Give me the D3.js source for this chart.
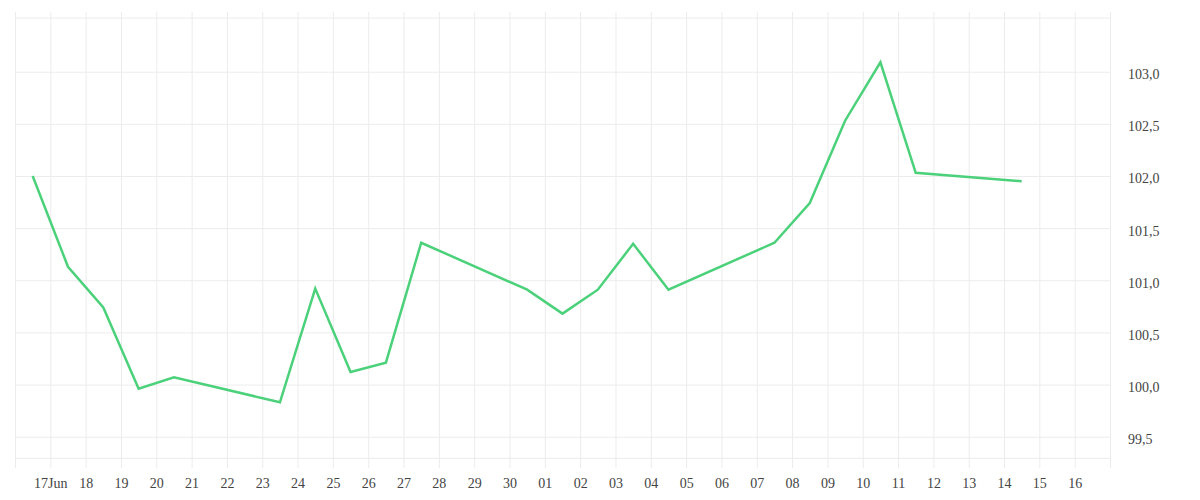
<!DOCTYPE html>
<html>
<head>
<meta charset="utf-8">
<script src="https://cdn.jsdelivr.net/npm/d3@7/dist/d3.min.js"></script>
<style>
  html, body { margin: 0; padding: 0; background: #fff; }
  svg { display: block; }
  .axis text { font-family: "Liberation Serif", serif; font-size: 14px; fill: #444; }
  .axis line { stroke: #ececec; stroke-width: 1; }
  .axis path.domain { display: none; }
</style>
</head>
<body>
<svg id="chart" width="1200" height="500"></svg>
<script>
// ---- data ----
const dates = ["2025-06-16","2025-06-17","2025-06-18","2025-06-19","2025-06-20",
               "2025-06-23","2025-06-24","2025-06-25","2025-06-26","2025-06-27",
               "2025-06-30","2025-07-01","2025-07-02","2025-07-03","2025-07-04",
               "2025-07-07","2025-07-08","2025-07-09","2025-07-10","2025-07-11",
               "2025-07-14"];
const values = [102.00, 101.13, 100.74, 99.96, 100.07,
                99.83, 100.92, 100.12, 100.21, 101.36,
                100.91, 100.68, 100.91, 101.35, 100.91,
                101.36, 101.74, 102.53, 103.09, 102.03,
                101.95];
const xTickDays = ["2025-06-16","2025-06-17","2025-06-18","2025-06-19","2025-06-20","2025-06-21",
                   "2025-06-22","2025-06-23","2025-06-24","2025-06-25","2025-06-26","2025-06-27",
                   "2025-06-28","2025-06-29","2025-06-30","2025-07-01","2025-07-02","2025-07-03",
                   "2025-07-04","2025-07-05","2025-07-06","2025-07-07","2025-07-08","2025-07-09",
                   "2025-07-10","2025-07-11","2025-07-12","2025-07-13","2025-07-14","2025-07-15",
                   "2025-07-16","2025-07-17"];
const xTickLabels = ["","17Jun","18","19","20","21","22","23","24","25","26","27","28","29","30",
                     "01","02","03","04","05","06","07","08","09","10","11","12","13","14","15","16",""];
const yTicks = [99.5, 100.0, 100.5, 101.0, 101.5, 102.0, 102.5, 103.0];
const xDomain = ["2025-06-16", "2025-07-17"];
const yDomain = [99.293, 103.515];

// ---- layout ----
const plotLeft = 15, plotRight = 1110, plotTop = 18, plotBottom = 458.3;
const gridTop = 12, gridBottom = 468;

const svg = d3.select("#chart");
const parse = s => new Date(s + "T00:00:00Z");
const noon = s => new Date(s + "T12:00:00Z");

const x = d3.scaleUtc().domain(xDomain.map(parse)).range([plotLeft, plotRight]);
const y = d3.scaleLinear().domain(yDomain).range([plotBottom, plotTop]);

const labelMap = new Map(xTickDays.map((d, i) => [+parse(d), xTickLabels[i]]));

// vertical grid + x labels
svg.append("g")
  .attr("class", "axis x")
  .attr("transform", `translate(0,${gridBottom})`)
  .call(d3.axisBottom(x)
    .tickValues(xTickDays.map(parse))
    .tickSize(-(gridBottom - gridTop))
    .tickPadding(10)
    .tickFormat(d => labelMap.get(+d)));

// horizontal grid + y labels
svg.append("g")
  .attr("class", "axis y")
  .attr("transform", `translate(${plotRight},0)`)
  .call(d3.axisRight(y)
    .tickValues(yTicks)
    .tickSize(-(plotRight - plotLeft))
    .tickPadding(18)
    .tickFormat(d => d3.format(".1f")(d).replace(".", ",")))
  .selectAll("text").attr("dy", "0.5em");

// frame lines top/bottom
svg.append("g").selectAll("line")
  .data(yDomain)
  .join("line")
  .attr("x1", plotLeft).attr("x2", plotRight)
  .attr("y1", d => y(d)).attr("y2", d => y(d))
  .attr("stroke", "#ececec").attr("stroke-width", 1);

// line
const data = dates.map((d, i) => ({ t: noon(d), v: values[i] }));
svg.append("path")
  .datum(data)
  .attr("fill", "none")
  .attr("stroke", "#4cd17b")
  .attr("stroke-width", 2.5)
  .attr("stroke-linejoin", "miter")
  .attr("d", d3.line().x(d => x(d.t)).y(d => y(d.v)));
</script>
</body>
</html>
